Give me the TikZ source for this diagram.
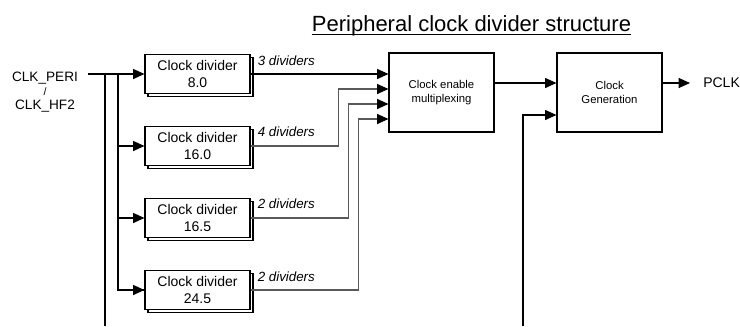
\documentclass[tikz,border=0pt]{standalone}
\usepackage{fontspec}
\setmainfont{Liberation Sans}
\usetikzlibrary{positioning}
\usetikzlibrary{shadows}
\usetikzlibrary{arrows.meta}
\tikzset{
    divbox/.style = {rectangle, draw=black, line width=0.8pt, fill=white, align=center,
                     minimum width=78.75pt, minimum height=29.25pt,
                     copy shadow={shadow xshift=2.25pt, shadow yshift=-2.25pt},
                     font=\fontsize{10.5}{12.75}\selectfont},
    bigbox/.style = {rectangle, draw=black, line width=0.8pt, fill=white, align=center,
                     minimum width=78.75pt, minimum height=59.25pt,
                     font=\fontsize{8.5}{10.5}\selectfont},
    wire/.style = {line width=0.8pt, -{Triangle[length=8.5pt,width=7.5pt,black]}},
    wireg/.style = {wire, draw=black!65}, % bent lines into the mux
    bus/.style = {line width=0.8pt},
    cnt/.style = {anchor=west, inner sep=0pt, font=\fontsize{10}{12}\selectfont\itshape},
    pin/.style = {align=center, inner sep=0pt, font=\fontsize{10.2}{10.25}\selectfont}
}

\begin{document}
\begin{tikzpicture}[x=0.75pt, y=0.75pt]
  \useasboundingbox (0,0) rectangle (740,326);

  % title
  \node[anchor=base, inner sep=0pt, font=\fontsize{16.5}{18}\selectfont] (title) at (471.5,294.5)
    {Peripheral clock divider structure};
  \draw[line width=1.1pt] ([yshift=-2.3pt]title.base west) -- ([yshift=-2.3pt]title.base east);

  % clock source
  \node[pin] (clkin) at (45,234) {CLK\_PERI\\{\fontsize{8}{10.25}\selectfont /}\\CLK\_HF2};

  % dividers
  \node[divbox] (div1) at (197.5,252) {Clock divider\\8.0};
  \node[divbox] (div2) at (197.5,180) {Clock divider\\16.0};
  \node[divbox] (div3) at (197.5,108) {Clock divider\\16.5};
  \node[divbox] (div4) at (197.5,36)  {Clock divider\\24.5};

  \node[cnt] (cnt1) at ([shift={(7,13)}]div1.east) {3 dividers};
  \node[cnt] (cnt2) at ([shift={(7,14)}]div2.east) {4 dividers};
  \node[cnt] (cnt3) at ([shift={(7,14)}]div3.east) {2 dividers};
  \node[cnt] (cnt4) at ([shift={(7,13)}]div4.east) {2 dividers};

  % mux and generation
  \node[bigbox] (mux) at (441.5,233.5) {Clock enable\\multiplexing};
  \node[bigbox] (gen) at (609.5,233.5) {Clock\\Generation};
  \node[anchor=west, inner sep=0pt, font=\fontsize{10.5}{12}\selectfont] (pclk) at (703,243) {PCLK};

  \coordinate (in) at (88,252);
  \coordinate (bus1) at (105,252);
  \coordinate (bus2) at (118,252);
  \coordinate (bus1end) at (105,0);
  \coordinate (mux1) at (mux.west |- 0,252);
  \coordinate (mux2) at (mux.west |- 0,237);
  \coordinate (mux3) at (mux.west |- 0,222);
  \coordinate (mux4) at (mux.west |- 0,207);
  \coordinate (muxout) at (mux.east |- 0,243);
  \coordinate (gen1) at (gen.west |- 0,243);
  \coordinate (gen2) at (gen.west |- 0,211);
  \coordinate (gensrc) at (523,0);
  \coordinate (genout) at (gen.east |- 0,243);
  \coordinate (pclkin) at (690,243);

  % clock source to the dividers
  \draw[wire] (in) -- (div1.west);
  \draw[bus] (bus1) -- (bus1end);
  \draw[bus] (bus2) |- (div4.west);
  \draw[wire] (bus2 |- div2.west) -- (div2.west);
  \draw[wire] (bus2 |- div3.west) -- (div3.west);
  \draw[wire] (bus2 |- div4.west) -- (div4.west);

  % divider outputs
  \draw[wire] (div1.east) -- (mux1);
  \draw[wireg] (div2.east) -- ++(88,0) |- (mux2);
  \draw[wireg] (div3.east) -- ++(98,0) |- (mux3);
  \draw[wireg] (div4.east) -- ++(108,0) |- (mux4);

  \draw[wire] (muxout) -- (gen1);
  \draw[wire] (gensrc) |- (gen2);
  \draw[wire] (genout) -- (pclkin);
\end{tikzpicture}
\end{document}
